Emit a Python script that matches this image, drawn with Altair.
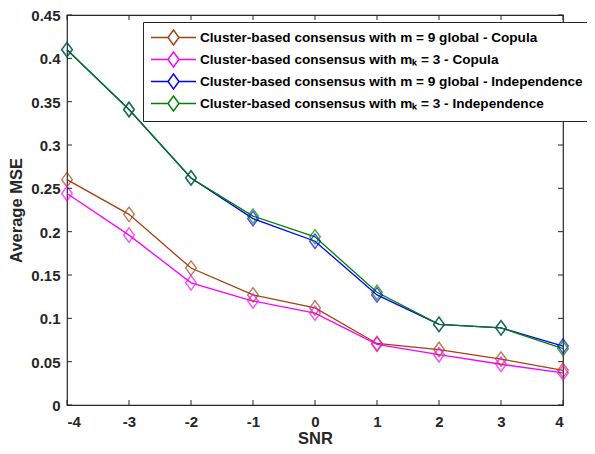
import altair as alt
import pandas as pd

snr = [-4, -3, -2, -1, 0, 1, 2, 3, 4]
series_names = [
    "Cluster-based consensus with m = 9 global - Copula",
    "Cluster-based consensus with m\u2096 = 3 - Copula",
    "Cluster-based consensus with m = 9 global - Independence",
    "Cluster-based consensus with m\u2096 = 3 - Independence",
]
m9_copula = [0.260, 0.220, 0.158, 0.127, 0.112, 0.071, 0.064, 0.053, 0.040]
mk3_copula = [0.244, 0.196, 0.141, 0.120, 0.106, 0.070, 0.058, 0.047, 0.037]
m9_indep = [0.410, 0.341, 0.262, 0.215, 0.189, 0.127, 0.093, 0.089, 0.068]
mk3_indep = [0.410, 0.341, 0.262, 0.218, 0.194, 0.130, 0.093, 0.089, 0.065]
colors = ["#A5400F", "#FF00FF", "#0000FF", "#008000"]
x_ticks = [-4, -3, -2, -1, 0, 1, 2, 3, 4]
y_ticks = [0, 0.05, 0.1, 0.15, 0.2, 0.25, 0.3, 0.35, 0.4, 0.45]

rows = []
for i, (name, vals) in enumerate(zip(series_names, [m9_copula, mk3_copula, m9_indep, mk3_indep])):
    for s, v in zip(snr, vals):
        rows.append({"SNR": s, "MSE": v, "series": name, "order": i})
df = pd.DataFrame(rows)
xt = pd.DataFrame({"SNR": x_ticks})
yt = pd.DataFrame({"MSE": y_ticks})

W, H = 496, 390
FONT = "Liberation Sans"
TXT = "#262626"
TL = 5  # inward tick length

xscale = alt.Scale(domain=[-4, 4], nice=False, zero=False)
yscale = alt.Scale(domain=[0, 0.45], nice=False)
cscale = alt.Scale(domain=series_names, range=colors)

# legend symbol: line with unfilled diamond, drawn in a unit space scaled by sqrt(size)/2
sym_path = "M-3,0H-0.733M0.733,0H3M0,-1L0.733,0L0,1L-0.733,0Z"
marker_path = "M0,-1L0.733,0L0,1L-0.733,0Z"

base = alt.Chart(df)

lines = base.mark_line(strokeWidth=1.3).encode(
    x=alt.X("SNR:Q", scale=xscale, title="SNR",
            axis=alt.Axis(values=x_ticks, labelExpr="datum.value", ticks=False, tickSize=0,
                          domain=False, grid=False, labelPadding=9, labelFont=FONT,
                          labelFontWeight="bold", labelFontSize=15, labelColor=TXT,
                          titleFont=FONT, titleFontWeight="bold", titleFontSize=16.5,
                          titleColor=TXT, titlePadding=1)),
    y=alt.Y("MSE:Q", scale=yscale, title="Average MSE",
            axis=alt.Axis(values=y_ticks, format="~g", ticks=False, tickSize=0, domain=False,
                          grid=False, labelPadding=7, labelFont=FONT, labelFontWeight="bold",
                          labelFontSize=15, labelColor=TXT, labelBaseline="alphabetic",
                          labelOffset=5.4, titleFont=FONT,
                          titleFontWeight="bold", titleFontSize=16.5, titleColor=TXT,
                          titlePadding=6)),
    color=alt.Color("series:N", scale=cscale, sort=series_names,
                    legend=alt.Legend(title=None, orient="none", legendX=76, legendY=7,
                                      symbolType=sym_path, symbolSize=225, symbolOffset=15,
                                      symbolStrokeWidth=1.4, symbolFillColor="transparent",
                                      labelFont=FONT, labelFontWeight="bold", labelFontSize=13.6,
                                      labelColor="#000000", labelLimit=0, labelOffset=18,
                                      rowPadding=1, padding=7, strokeColor=TXT,
                                      fillColor="white")),
    detail="order:O",
    order="order:O",
)

points = base.mark_point(shape=marker_path, filled=False, size=210, strokeWidth=1.4).encode(
    x=alt.X("SNR:Q", scale=xscale),
    y=alt.Y("MSE:Q", scale=yscale),
    color=alt.Color("series:N", scale=cscale, legend=None),
    order="order:O",
)

tick_kw = dict(color=TXT, strokeWidth=1)
xticks_bottom = alt.Chart(xt).mark_rule(**tick_kw).encode(
    x=alt.X("SNR:Q", scale=xscale), y=alt.value(H), y2=alt.value(H - TL))
xticks_top = alt.Chart(xt).mark_rule(**tick_kw).encode(
    x=alt.X("SNR:Q", scale=xscale), y=alt.value(0), y2=alt.value(TL))
yticks_left = alt.Chart(yt).mark_rule(**tick_kw).encode(
    y=alt.Y("MSE:Q", scale=yscale), x=alt.value(0), x2=alt.value(TL))
yticks_right = alt.Chart(yt).mark_rule(**tick_kw).encode(
    y=alt.Y("MSE:Q", scale=yscale), x=alt.value(W - TL), x2=alt.value(W))

chart = alt.layer(
    lines, points, xticks_bottom, xticks_top, yticks_left, yticks_right
).properties(
    width=W, height=H,
    autosize=alt.AutoSizeParams(type="none"),
    padding={"left": 59, "top": 7, "right": 24, "bottom": 41},
    background="white",
).configure_view(stroke=TXT, strokeWidth=1.2)

chart.save("out.html", embed_options={"renderer": "svg", "actions": False})
